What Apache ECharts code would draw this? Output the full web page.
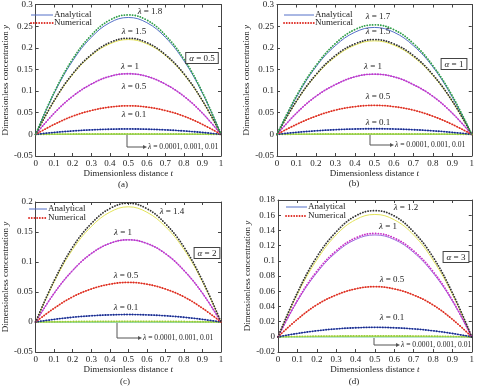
<!DOCTYPE html>
<html>
<head>
<meta charset="utf-8">
<script src="https://cdn.jsdelivr.net/npm/echarts@6/dist/echarts.min.js"></script>
<style>
  html, body { margin: 0; padding: 0; background: #fff; }
  #main { width: 477px; height: 387px; }
</style>
</head>
<body>
<div id="main"></div>
<script>
// dimensionless distance t
var tValues = [0, 0.1, 0.2, 0.3, 0.4, 0.5, 0.6, 0.7, 0.8, 0.9, 1];

// (a) alpha = 0.5
var aNum18 = [0, 0.097, 0.174, 0.229, 0.264, 0.276, 0.264, 0.229, 0.174, 0.097, 0];
var aAna18 = [0, 0.095, 0.170, 0.224, 0.258, 0.270, 0.258, 0.224, 0.170, 0.095, 0];
var aNum15 = [0, 0.078, 0.140, 0.184, 0.212, 0.222, 0.212, 0.184, 0.140, 0.078, 0];
var aAna15 = [0, 0.077, 0.138, 0.182, 0.209, 0.219, 0.209, 0.182, 0.138, 0.077, 0];
var a10 = [0, 0.049, 0.088, 0.116, 0.134, 0.140, 0.134, 0.116, 0.088, 0.049, 0];
var a05 = [0, 0.023, 0.042, 0.055, 0.063, 0.066, 0.063, 0.055, 0.042, 0.023, 0];
var a01 = [0, 0.0044, 0.0079, 0.0104, 0.0119, 0.0125, 0.0119, 0.0104, 0.0079, 0.0044, 0];

// (b) alpha = 1
var bNum17 = [0, 0.089, 0.159, 0.210, 0.242, 0.253, 0.242, 0.210, 0.159, 0.089, 0];
var bAna17 = [0, 0.086, 0.156, 0.205, 0.236, 0.247, 0.236, 0.205, 0.156, 0.086, 0];
var bNum15 = [0, 0.077, 0.138, 0.182, 0.209, 0.219, 0.209, 0.182, 0.138, 0.077, 0];
var bAna15 = [0, 0.076, 0.136, 0.179, 0.206, 0.216, 0.206, 0.179, 0.136, 0.076, 0];
var b10 = [0, 0.049, 0.088, 0.115, 0.133, 0.139, 0.133, 0.115, 0.088, 0.049, 0];
var b05 = [0, 0.023, 0.042, 0.056, 0.064, 0.067, 0.064, 0.056, 0.042, 0.023, 0];
var b01 = [0, 0.0046, 0.0082, 0.0108, 0.0124, 0.013, 0.0124, 0.0108, 0.0082, 0.0046, 0];

// (c) alpha = 2
var cNum14 = [0, 0.069, 0.125, 0.164, 0.189, 0.198, 0.189, 0.164, 0.125, 0.069, 0];
var cAna14 = [0, 0.067, 0.121, 0.159, 0.183, 0.192, 0.183, 0.159, 0.121, 0.067, 0];
var c10 = [0, 0.048, 0.086, 0.114, 0.131, 0.137, 0.131, 0.114, 0.086, 0.048, 0];
var c05 = [0, 0.023, 0.042, 0.055, 0.063, 0.066, 0.063, 0.055, 0.042, 0.023, 0];
var c01 = [0, 0.0044, 0.0079, 0.0104, 0.0119, 0.0125, 0.0119, 0.0104, 0.0079, 0.0044, 0];

// (d) alpha = 3
var dNum12 = [0, 0.058, 0.105, 0.138, 0.159, 0.166, 0.159, 0.138, 0.105, 0.058, 0];
var dAna12 = [0, 0.056, 0.101, 0.134, 0.154, 0.161, 0.154, 0.134, 0.101, 0.056, 0];
var dNum10 = [0, 0.048, 0.086, 0.113, 0.130, 0.136, 0.130, 0.113, 0.086, 0.048, 0];
var dAna10 = [0, 0.047, 0.084, 0.111, 0.128, 0.134, 0.128, 0.111, 0.084, 0.047, 0];
var d05 = [0, 0.023, 0.042, 0.055, 0.063, 0.066, 0.063, 0.055, 0.042, 0.023, 0];
var d01 = [0, 0.0044, 0.0079, 0.0104, 0.0119, 0.0125, 0.0119, 0.0104, 0.0079, 0.0044, 0];

// lambda = 0.01, 0.001, 0.0001 (practically zero at this scale)
var s001 = [0, 0.0004, 0.0008, 0.001, 0.0011, 0.0012, 0.0011, 0.001, 0.0008, 0.0004, 0];
var s0001 = [0, 0.00004, 0.00008, 0.0001, 0.00011, 0.00012, 0.00011, 0.0001, 0.00008, 0.00004, 0];
var s00001 = [0, 0.000004, 0.000008, 0.00001, 0.000011, 0.000012, 0.000011, 0.00001, 0.000008, 0.000004, 0];

// y axis ranges per panel
var yMin = [-0.05, -0.05, -0.05, -0.02];
var yMax = [0.3, 0.3, 0.2, 0.18];
var yStep = [0.05, 0.05, 0.05, 0.02];

var FONT = 'Liberation Serif';
var AX = '#444';

var grids = [
  { left: 25, top: 4, width: 196, height: 152 },
  { left: 277, top: 3, width: 196, height: 153 },
  { left: 26, top: 202, width: 195, height: 150 },
  { left: 278, top: 200, width: 195, height: 152 }
];

function fmt(v) { return String(Math.round(v * 1000) / 1000); }

var xAxes = [], yAxes = [];
for (var g = 0; g < 4; g++) {
  xAxes.push({
    gridIndex: g, type: 'value', min: 0, max: 1, interval: 0.1, position: 'bottom',
    name: 'Dimensionless distance {i|t}', nameLocation: 'middle', nameGap: 11,
    nameTextStyle: { fontFamily: FONT, fontSize: 9, color: '#222', rich: { i: { fontStyle: 'italic', fontFamily: FONT, fontSize: 9 } } },
    axisLine: { show: true, onZero: false, lineStyle: { color: AX } },
    axisTick: { inside: true, length: 3, lineStyle: { color: AX } },
    axisLabel: { fontFamily: FONT, fontSize: 9, color: '#222', margin: 3, formatter: fmt },
    splitLine: { show: false }
  });
  yAxes.push({
    gridIndex: g, type: 'value', min: yMin[g], max: yMax[g], interval: yStep[g], position: 'left',
    name: 'Dimensionless concentration {i|y}', nameLocation: 'middle', nameGap: (g % 2 === 0) ? 16 : 19,
    nameTextStyle: { fontFamily: FONT, fontSize: 9, color: '#222', rich: { i: { fontStyle: 'italic', fontFamily: FONT, fontSize: 9 } } },
    axisLine: { show: true, onZero: false, lineStyle: { color: AX } },
    axisTick: { inside: true, length: 3, lineStyle: { color: AX } },
    axisLabel: { fontFamily: FONT, fontSize: 9, color: '#222', margin: 3, formatter: fmt },
    splitLine: { show: false }
  });
}
// mirrored top / right axes (ticks only)
for (var g = 0; g < 4; g++) {
  xAxes.push({
    gridIndex: g, type: 'value', min: 0, max: 1, interval: 0.1, position: 'top',
    axisLine: { show: true, onZero: false, lineStyle: { color: AX } },
    axisTick: { inside: true, length: 3, lineStyle: { color: AX } },
    axisLabel: { show: false }, splitLine: { show: false }
  });
  yAxes.push({
    gridIndex: g, type: 'value', min: yMin[g], max: yMax[g], interval: yStep[g], position: 'right',
    axisLine: { show: true, onZero: false, lineStyle: { color: AX } },
    axisTick: { inside: true, length: 3, lineStyle: { color: AX } },
    axisLabel: { show: false }, splitLine: { show: false }
  });
}

function pairs(arr) {
  return arr.map(function (v, i) { return [tValues[i], v]; });
}

var DOTS = [0.1, 2.6];

function ana(g, arr, color) {
  return {
    type: 'line', xAxisIndex: g, yAxisIndex: g, data: pairs(arr), smooth: 0.4,
    showSymbol: false, silent: true, z: 2,
    lineStyle: { color: color, width: 1 }
  };
}
function num(g, arr, color) {
  return {
    type: 'line', xAxisIndex: g, yAxisIndex: g, data: pairs(arr), smooth: 0.4,
    showSymbol: false, silent: true, z: 3,
    lineStyle: { color: color, width: 1.8, type: DOTS, cap: 'round' }
  };
}

var GREEN = '#2f9e48', BLUE = '#5570c8', BLACK = '#333333', YELLOW = '#e4e45a',
    MAG = '#c832c8', LPURP = '#a070e0', RED = '#dd2a22', PINK = '#f08a70',
    NAVY = '#1c2a86', LBLUE = '#4a6ad0', LGREEN = '#8ccc44', CYAN = '#40c0d8';

var series = [];
function smalls(g) {
  series.push(ana(g, s00001, CYAN), ana(g, s0001, LGREEN), ana(g, s001, YELLOW));
  series.push(num(g, s001, LGREEN));
}
// (a)
smalls(0);
series.push(ana(0, a01, LBLUE), num(0, a01, NAVY));
series.push(ana(0, a05, PINK), num(0, a05, RED));
series.push(ana(0, a10, LPURP), num(0, a10, MAG));
series.push(ana(0, aAna15, YELLOW), num(0, aNum15, BLACK));
series.push(ana(0, aAna18, BLUE), num(0, aNum18, GREEN));
// (b)
smalls(1);
series.push(ana(1, b01, LBLUE), num(1, b01, NAVY));
series.push(ana(1, b05, PINK), num(1, b05, RED));
series.push(ana(1, b10, LPURP), num(1, b10, MAG));
series.push(ana(1, bAna15, YELLOW), num(1, bNum15, BLACK));
series.push(ana(1, bAna17, BLUE), num(1, bNum17, GREEN));
// (c)
smalls(2);
series.push(ana(2, c01, LBLUE), num(2, c01, NAVY));
series.push(ana(2, c05, PINK), num(2, c05, RED));
series.push(ana(2, c10, LPURP), num(2, c10, MAG));
series.push(ana(2, cAna14, YELLOW), num(2, cNum14, BLACK));
// (d)
smalls(3);
series.push(ana(3, d01, LBLUE), num(3, d01, NAVY));
series.push(ana(3, d05, PINK), num(3, d05, RED));
series.push(ana(3, dAna10, LPURP), num(3, dNum10, MAG));
series.push(ana(3, dAna12, YELLOW), num(3, dNum12, BLACK));

// annotations
var graphic = [];
function txt(x, y, text, size, align, extra) {
  var st = {
    text: text, align: align || 'center', verticalAlign: 'middle',
    fontFamily: FONT, fontSize: size || 9, fill: '#222',
    rich: { i: { fontStyle: 'italic', fontFamily: FONT, fontSize: size || 9, fill: '#222' } }
  };
  if (extra) { for (var k in extra) st[k] = extra[k]; }
  graphic.push({ type: 'text', x: x, y: y, z: 100, style: st });
}
function legend(x0, x1, yA, yN) {
  graphic.push({ type: 'line', z: 100, shape: { x1: x0, y1: yA, x2: x1, y2: yA }, style: { stroke: BLUE, lineWidth: 1 } });
  graphic.push({ type: 'line', z: 100, shape: { x1: x0, y1: yN, x2: x1, y2: yN }, style: { stroke: RED, lineWidth: 1.8, lineDash: DOTS, lineCap: 'round' } });
  txt(x1 + 1, yA, 'Analytical', 9, 'left');
  txt(x1 + 1, yN, 'Numerical', 9, 'left');
}
function arrow(x, y0, y1, x2) {
  graphic.push({ type: 'polyline', z: 100, shape: { points: [[x, y0], [x, y1], [x2, y1]] }, style: { stroke: '#555', lineWidth: 1, fill: null } });
  graphic.push({ type: 'polygon', z: 100, shape: { points: [[x2 + 2, y1], [x2 - 2, y1 - 2], [x2 - 2, y1 + 2]] }, style: { fill: '#555' } });
}
function alphaBox(x, y, text) {
  txt(x, y, text, 9, 'center', { padding: [1, 3, 0, 3], borderColor: '#444', borderWidth: 1, backgroundColor: '#fff' });
}

// (a)
legend(31, 53, 15, 23);
txt(150, 12, '{i|λ} = 1.8');
txt(134, 32, '{i|λ} = 1.5');
txt(130, 67, '{i|λ} = 1');
txt(134, 87, '{i|λ} = 0.5');
txt(134, 115, '{i|λ} = 0.1');
alphaBox(202, 58, '{i|α} = 0.5');
arrow(127, 135, 147, 145);
txt(148, 147, '{i|λ} = 0.0001, 0.001, 0.01', 7.6, 'left');
txt(123, 185, '(a)');
// (b)
legend(284, 314, 15, 23);
txt(378, 17, '{i|λ} = 1.7');
txt(378, 32, '{i|λ} = 1.5');
txt(373, 67, '{i|λ} = 1');
txt(378, 97, '{i|λ} = 0.5');
txt(378, 123, '{i|λ} = 0.1');
alphaBox(454, 64, '{i|α} = 1');
arrow(370, 135, 145, 392);
txt(395, 145, '{i|λ} = 0.0001, 0.001, 0.01', 7.6, 'left');
txt(354, 184, '(b)');
// (c)
legend(29, 47, 209, 218);
txt(172, 212, '{i|λ} = 1.4');
txt(123, 233, '{i|λ} = 1');
txt(126, 276, '{i|λ} = 0.5');
txt(126, 308, '{i|λ} = 0.1');
alphaBox(207, 253, '{i|α} = 2');
arrow(117, 323, 338, 140);
txt(143, 338, '{i|λ} = 0.0001, 0.001, 0.01', 7.6, 'left');
txt(125, 382, '(c)');
// (d)
legend(286, 307, 207, 216);
txt(406, 208, '{i|λ} = 1.2');
txt(388, 227, '{i|λ} = 1');
txt(392, 280, '{i|λ} = 0.5');
txt(392, 318, '{i|λ} = 0.1');
alphaBox(456, 257, '{i|α} = 3');
arrow(374, 338, 345, 398);
txt(401, 345, '{i|λ} = 0.0001, 0.001, 0.01', 7.6, 'left');
txt(354, 382, '(d)');

var chart = echarts.init(document.getElementById('main'));
chart.setOption({
  backgroundColor: '#fff',
  animation: false,
  grid: grids,
  xAxis: xAxes,
  yAxis: yAxes,
  series: series,
  graphic: graphic
});
</script>
</body>
</html>
